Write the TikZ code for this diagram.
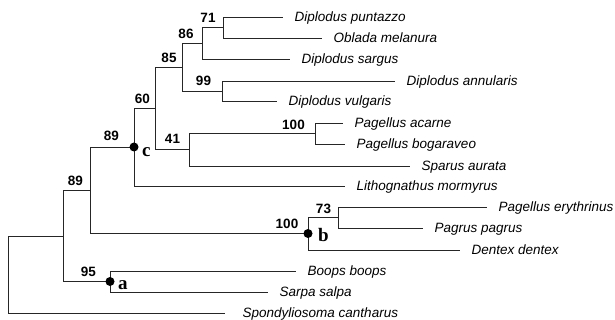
\documentclass[tikz,border=0pt]{standalone}
\usepackage{fontspec}
\setmainfont{Liberation Sans}
\newfontfamily\cladefont{Liberation Serif}
\begin{document}
\begin{tikzpicture}[x=1pt,y=-1pt,
    taxon/.style={anchor=west,inner xsep=11.5pt,inner ysep=0pt,text height=9.7pt,text depth=0pt,font=\fontsize{13.5}{15}\selectfont\itshape},
    boot/.style={inner sep=0pt,font=\fontsize{13.5}{15}\selectfont\bfseries},
    clade/.style={anchor=base west,inner sep=0pt,font=\fontsize{19}{20}\selectfont\cladefont\bfseries},
    branch/.style={line width=0.9pt,black!85}]
  \useasboundingbox (0,0) rectangle (615,320);
  % taxa
  \node[taxon] (dpuntazzo) at (283,17) {Diplodus puntazzo};
  \node[taxon] (omelanura) at (322,38) {Oblada melanura};
  \node[taxon] (dsargus) at (290,59) {Diplodus sargus};
  \node[taxon] (dannularis) at (395,81) {Diplodus annularis};
  \node[taxon] (dvulgaris) at (277,101) {Diplodus vulgaris};
  \node[taxon] (pacarne) at (343,123) {Pagellus acarne};
  \node[taxon] (pbogaraveo) at (345,144) {Pagellus bogaraveo};
  \node[taxon] (saurata) at (410,166) {Sparus aurata};
  \node[taxon] (lmormyrus) at (345,186) {Lithognathus mormyrus};
  \node[taxon] (perythrinus) at (487,207) {Pagellus erythrinus};
  \node[taxon] (ppagrus) at (423,228) {Pagrus pagrus};
  \node[taxon] (ddentex) at (460,250) {Dentex dentex};
  \node[taxon] (bboops) at (296,271) {Boops boops};
  \node[taxon] (ssalpa) at (268,292) {Sarpa salpa};
  \node[taxon,inner xsep=17.5pt] (scantharus) at (225,313) {Spondyliosoma cantharus};
  % internal nodes
  \coordinate (n71) at (223,27.5);
  \coordinate (n86) at (202,43);
  \coordinate (n99) at (222,91);
  \coordinate (n85) at (182,67);
  \coordinate (nacar) at (315,133.5);
  \coordinate (n41) at (189,149.5);
  \coordinate (n60) at (155,108);
  \coordinate (nc) at (134,147);
  \coordinate (n73) at (338,217.5);
  \coordinate (nb) at (308,233.5);
  \coordinate (nup) at (90,190);
  \coordinate (na) at (110,281.5);
  \coordinate (nlow) at (63,236);
  \coordinate (root) at (8,274.5);
  % branches
  \draw[branch] (n71) |- (dpuntazzo.west);
  \draw[branch] (n71) |- (omelanura.west);
  \draw[branch] (n86) |- (n71);
  \draw[branch] (n86) |- (dsargus.west);
  \draw[branch] (n99) |- (dannularis.west);
  \draw[branch] (n99) |- (dvulgaris.west);
  \draw[branch] (n85) |- (n86);
  \draw[branch] (n85) |- (n99);
  \draw[branch] (nacar) |- (pacarne.west);
  \draw[branch] (nacar) |- (pbogaraveo.west);
  \draw[branch] (n41) |- (nacar);
  \draw[branch] (n41) |- (saurata.west);
  \draw[branch] (n60) |- (n85);
  \draw[branch] (n60) |- (n41);
  \draw[branch] (nc) |- (n60);
  \draw[branch] (nc) |- (lmormyrus.west);
  \draw[branch] (n73) |- (perythrinus.west);
  \draw[branch] (n73) |- (ppagrus.west);
  \draw[branch] (nb) |- (n73);
  \draw[branch] (nb) |- (ddentex.west);
  \draw[branch] (nup) |- (nc);
  \draw[branch] (nup) |- (nb);
  \draw[branch] (na) |- (bboops.west);
  \draw[branch] (na) |- (ssalpa.west);
  \draw[branch] (nlow) |- (nup);
  \draw[branch] (nlow) |- (na);
  \draw[branch] (root) |- (nlow);
  \draw[branch] (root) |- (scantharus.west);
  \fill (nc) circle (4.5pt);
  \fill (nb) circle (4.5pt);
  \fill (na) circle (4.5pt);
  % support values
  \node[boot] (s71) at (208,17.5) {71};
  \node[boot] (s86) at (186,33.5) {86};
  \node[boot] (s85) at (169,58) {85};
  \node[boot] (s99) at (203.5,81) {99};
  \node[boot] (s60) at (142.5,99) {60};
  \node[boot] (sacar) at (293.5,125) {100};
  \node[boot] (s41) at (172.5,139) {41};
  \node[boot] (sc) at (111.5,136) {89};
  \node[boot] (sup) at (75.5,181) {89};
  \node[boot] (sb) at (287,224) {100};
  \node[boot] (s73) at (323.5,209) {73};
  \node[boot] (sa) at (88.5,272) {95};
  % clade letters
  \node[clade] (lc) at (142,157) {c};
  \node[clade] (lb) at (318,241) {b};
  \node[clade] (la) at (118,289) {a};
\end{tikzpicture}
\end{document}
